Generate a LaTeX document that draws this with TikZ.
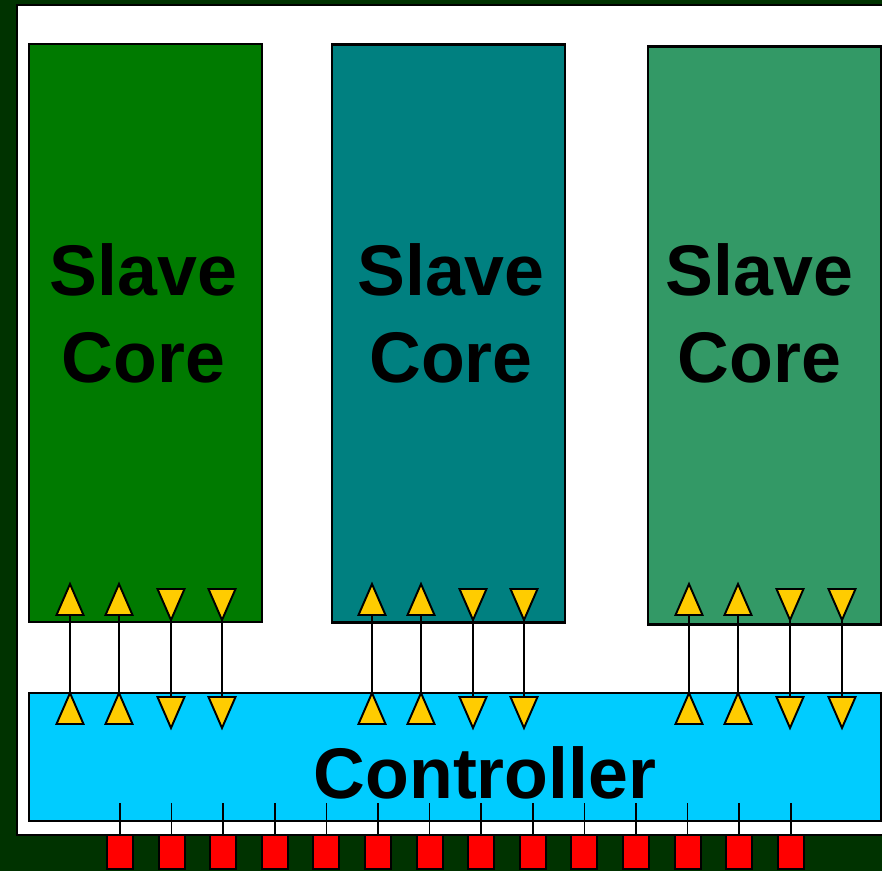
\documentclass[tikz,border=0pt]{standalone}
\usepackage{fontspec}
\setmainfont{Liberation Sans}
\usetikzlibrary{positioning}
\definecolor{board}{HTML}{003300}
\definecolor{coreA}{HTML}{007A00}
\definecolor{coreB}{HTML}{008080}
\definecolor{coreC}{HTML}{339966}
\definecolor{ctrlblue}{HTML}{00CCFF}
\definecolor{gold}{HTML}{FFCC00}
\definecolor{pinred}{HTML}{FF0000}
\tikzset{
  core/.style={draw, line width=1.2pt, minimum width=4.66cm, minimum height=11.56cm, inner sep=0pt},
  big/.style={font=\bfseries\fontsize{40.8}{49.3}\selectfont, align=center, inner sep=0pt},
  pinbox/.style={draw, fill=pinred, line width=1.1pt, minimum width=0.52cm, minimum height=0.68cm, inner sep=0pt},
  tri/.style={draw, fill=gold, line width=1.1pt, line join=miter},
  wire/.style={line width=1pt},
  upt/.pic={\draw[tri] (-13.5,0) -- (13.5,0) -- (0,-31) -- cycle;},
  dnt/.pic={\draw[tri] (-13.5,0) -- (13.5,0) -- (0,31) -- cycle;}
}
\begin{document}
\begin{tikzpicture}[x=0.02cm,y=-0.02cm]
  \useasboundingbox (0,0) rectangle (882,871);
  \clip (0,0) rectangle (882,871);
  \fill[board] (0,0) rectangle (882,871);
  \draw[fill=white, line width=1.2pt] (17,5) rectangle (900,835);

  \node[core, fill=coreA] (core1) at (145.5,333) {};
  \node[core, fill=coreB] (core2) at (448.5,333.5) {};
  \node[core, fill=coreC] (core3) at (764.5,335.5) {};
  \node[big] (slave1) at (143.5,313.5) {Slave\\Core};
  \node[big] (slave2) at (451,313.5) {Slave\\Core};
  \node[big] (slave3) at (759.5,313.5) {Slave\\Core};

  \node[core, fill=ctrlblue, minimum width=17.04cm, minimum height=2.56cm] (ctrl) at (455,757) {};
  \node[big, anchor=base] (ctrltext) at (485,798) {Controller};

  \foreach \x in {70,119,372,421,689,738} {
    \coordinate (t\x) at (\x,615);
    \coordinate (b\x) at (\x,693);
    \draw[wire] (t\x) -- (b\x);
    \pic at (t\x) {upt};
    \pic at (\x,724) {upt};
  }
  \foreach \x in {171,222,473,524,790,842} {
    \coordinate (t\x) at (\x,620);
    \coordinate (b\x) at (\x,697);
    \draw[wire] (t\x) -- (b\x);
    \pic at (\x,589) {dnt};
    \pic at (b\x) {dnt};
  }

  \foreach \i in {0,...,13} {
    \pgfmathsetmacro\px{120+51.6*\i}
    \coordinate (q\i) at (\px,803);
    \node[pinbox] (pin\i) at (\px,852) {};
    \draw[wire] (q\i) -- (pin\i);
  }
\end{tikzpicture}
\end{document}
